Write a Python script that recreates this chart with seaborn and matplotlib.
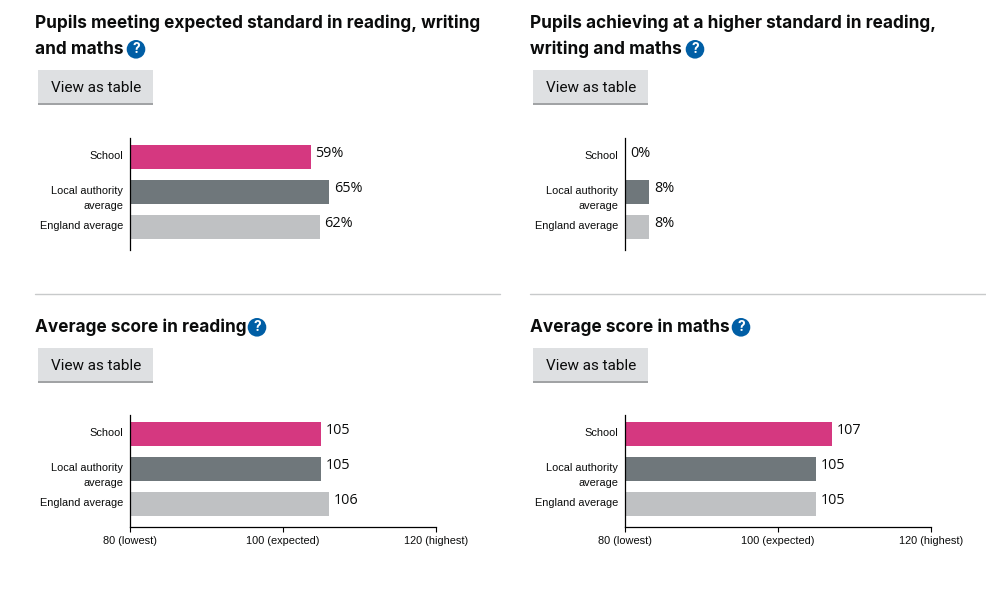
import matplotlib
matplotlib.use("Agg")
import matplotlib.pyplot as plt
from matplotlib.patches import Circle, Rectangle
from matplotlib.transforms import ScaledTranslation
import pandas as pd
import seaborn as sns

W, H = 986, 596

categories = ["School", "Local authority\naverage", "England average"]
expected_standard = [59, 65, 62]
higher_standard = [0, 8, 8]
reading_score = [105, 105, 106]
maths_score = [107, 105, 105]
score_ticks = [80, 100, 120]
score_tick_labels = ["80 (lowest)", "100 (expected)", "120 (highest)"]
bar_colors = ["#d53880", "#6f777b", "#bfc1c3"]

TITLE_FONT = "Inter"
BODY_FONT = "Roboto"
VALUE_FONT = "Open Sans"
LABEL_FONT = "Liberation Sans"

sns.set_theme(style="white")
plt.rcParams["font.family"] = [BODY_FONT, "DejaVu Sans"]

fig = plt.figure(figsize=(W / 100, H / 100), dpi=100, facecolor="white")

# overlay in pixel coordinates for the page furniture
page = fig.add_axes([0, 0, 1, 1])
page.set_xlim(0, W)
page.set_ylim(H, 0)
page.axis("off")


def page_text(x_left, title_lines, title_y, icon_x):
    for line, y in zip(title_lines, title_y):
        page.text(x_left, y, line, family=TITLE_FONT, fontweight="bold", fontsize=12.4,
                  color="#0b0c0c", va="center", ha="left")
    # help icon
    page.add_patch(Circle((icon_x, title_y[-1] + 0.3), 9.3, color="#005ea5", lw=0))
    page.text(icon_x, title_y[-1] + 0.3, "?", family=TITLE_FONT, fontweight="bold", fontsize=10,
              color="white", ha="center", va="center")
    # button
    btn_top = title_y[-1] + 21
    page.add_patch(Rectangle((x_left + 3, btn_top), 115, 35, color="#dee0e2", lw=0))
    page.add_patch(Rectangle((x_left + 3, btn_top + 33), 115, 2, color="#a1a3a5", lw=0))
    page.text(x_left + 61, btn_top + 18, "View as table", family=BODY_FONT, fontsize=11,
              color="#0b0c0c", ha="center", va="center")


def bar_panel(x0, y0, values, xlim, suffix="", ticks=None, tick_labels=None):
    ax = fig.add_axes([x0 / W, 1 - (y0 + 112) / H, 306 / W, 112 / H])
    ax.patch.set_alpha(0)
    df = pd.DataFrame({"category": categories, "value": values})
    sns.barplot(data=df, y="category", x="value", hue="category", palette=bar_colors,
                width=0.686, legend=False, saturation=1, linewidth=0, ax=ax)
    ax.set_xlim(*xlim)
    ax.set_ylim(2 + 23 / 35, -19 / 35)
    ax.set_xlabel("")
    ax.set_ylabel("")

    sns.despine(ax=ax, top=True, right=True, bottom=ticks is None)
    ax.spines["left"].set_color("black")
    ax.spines["left"].set_linewidth(0.9)
    ax.spines["bottom"].set_color("black")
    ax.spines["bottom"].set_linewidth(0.9)

    ax.tick_params(axis="y", length=0, pad=5)
    # first line of every label sits a little above the bar centre
    shift = ScaledTranslation(0, 0.06, fig.dpi_scale_trans)
    for lab in ax.get_yticklabels():
        lab.set_family(LABEL_FONT)
        lab.set_fontsize(7.9)
        lab.set_color("#0b0c0c")
        lab.set_verticalalignment("top")
        lab.set_linespacing(1.68)
        lab.set_transform(lab.get_transform() + shift)

    if ticks is None:
        ax.set_xticks([])
    else:
        ax.set_xticks(ticks)
        ax.set_xticklabels(tick_labels, family=LABEL_FONT, fontsize=7.9, color="#0b0c0c")
        ax.tick_params(axis="x", length=3.6, width=0.8, color="black", pad=2.8, bottom=True)

    for i, v in enumerate(values):
        ax.annotate(f"{v}{suffix}", (v, i), xytext=(3.5, 2.3), textcoords="offset points",
                    family=VALUE_FONT, fontsize=10.4, color="#0b0c0c", va="center", ha="left")
    return ax


page_text(35, ["Pupils meeting expected standard in reading, writing", "and maths"], [23, 49], 136)
page_text(530, ["Pupils achieving at a higher standard in reading,", "writing and maths"], [23, 49], 695)
page_text(35, ["Average score in reading"], [327], 257)
page_text(530, ["Average score in maths"], [327], 741)

page.plot([35, 500], [294, 294], color="#c8cacb", lw=1)
page.plot([530, 986], [294, 294], color="#c8cacb", lw=1)

bar_panel(130, 138, expected_standard, (0, 100), suffix="%")
bar_panel(625, 138, higher_standard, (0, 100), suffix="%")
bar_panel(130, 415, reading_score, (80, 120), ticks=score_ticks, tick_labels=score_tick_labels)
bar_panel(625, 415, maths_score, (80, 120), ticks=score_ticks, tick_labels=score_tick_labels)

fig.savefig("out.png", dpi=100)
